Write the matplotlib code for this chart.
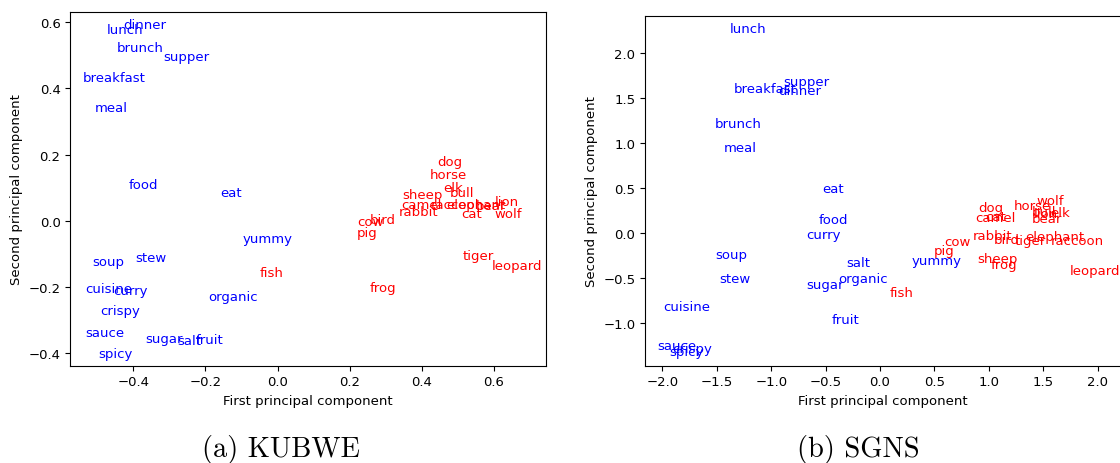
import matplotlib
matplotlib.use("Agg")
import matplotlib.pyplot as plt

# words that belong to the animal group (drawn in red), everything else is food
animals = [
    "dog", "horse", "elk", "bull", "sheep", "camel", "raccoon", "elephant",
    "bear", "lion", "cat", "wolf", "rabbit", "bird", "cow", "pig", "tiger",
    "leopard", "frog", "fish",
]

# KUBWE projection
kubwe_words = [
    "lunch", "dinner", "brunch", "supper", "breakfast", "meal", "food", "eat",
    "yummy", "soup", "stew", "cuisine", "curry", "organic", "crispy", "sauce",
    "sugar", "salt", "fruit", "spicy", "fish", "dog", "horse", "elk", "bull",
    "sheep", "camel", "raccoon", "elephant", "bear", "lion", "cat", "wolf",
    "rabbit", "bird", "cow", "pig", "tiger", "leopard", "frog",
]
kubwe_x = [
    -0.473, -0.427, -0.447, -0.318, -0.540, -0.506, -0.413, -0.158,
    -0.096, -0.515, -0.394, -0.533, -0.455, -0.193, -0.491, -0.532,
    -0.367, -0.278, -0.227, -0.496, -0.049, 0.444, 0.423, 0.460, 0.479,
    0.346, 0.344, 0.426, 0.468, 0.551, 0.604, 0.511, 0.602,
    0.337, 0.256, 0.221, 0.221, 0.513, 0.594, 0.256,
]
kubwe_y = [
    0.566, 0.582, 0.514, 0.486, 0.422, 0.332, 0.100, 0.076,
    -0.065, -0.134, -0.121, -0.214, -0.221, -0.239, -0.280, -0.347,
    -0.366, -0.372, -0.369, -0.411, -0.166, 0.169, 0.129, 0.091, 0.076,
    0.068, 0.040, 0.038, 0.040, 0.037, 0.047, 0.013, 0.013,
    0.017, -0.005, -0.013, -0.045, -0.116, -0.144, -0.211,
]

# SGNS projection
sgns_words = [
    "lunch", "supper", "breakfast", "dinner", "brunch", "meal", "eat", "food",
    "curry", "soup", "salt", "stew", "organic", "sugar", "fruit", "cuisine",
    "sauce", "crispy", "spicy", "yummy", "fish", "dog", "horse", "wolf",
    "camel", "cat", "bull", "lion", "elk", "bear", "rabbit", "bird",
    "elephant", "tiger", "raccoon", "cow", "pig", "sheep", "frog", "leopard",
]
sgns_x = [
    -1.379, -0.889, -1.342, -0.935, -1.523, -1.437, -0.533, -0.567,
    -0.674, -1.517, -0.306, -1.477, -0.383, -0.674, -0.441, -1.992,
    -2.046, -1.908, -1.936, 0.291, 0.085, 0.904, 1.225, 1.440,
    0.873, 0.965, 1.394, 1.410, 1.563, 1.394, 0.848, 1.042,
    1.333, 1.241, 1.570, 0.588, 0.490, 0.898, 1.017, 1.740,
]
sgns_y = [
    2.236, 1.650, 1.569, 1.550, 1.187, 0.913, 0.458, 0.117,
    -0.053, -0.272, -0.358, -0.542, -0.542, -0.609, -0.998, -0.846,
    -1.283, -1.313, -1.350, -0.339, -0.691, 0.253, 0.272, 0.328,
    0.142, 0.150, 0.209, 0.180, 0.198, 0.124, -0.061, -0.106,
    -0.069, -0.117, -0.117, -0.124, -0.228, -0.313, -0.387, -0.450,
]

FS = 9.5
plt.rcParams["font.size"] = FS


def plot_words(ax, words, xs, ys, xlim, ylim):
    for w, x, y in zip(words, xs, ys):
        color = "red" if w in animals else "blue"
        ax.text(x, y, w, color=color, fontsize=FS)
    ax.set_xlim(*xlim)
    ax.set_ylim(*ylim)
    ax.set_xlabel("First principal component")
    ax.set_ylabel("Second principal component")
    ax.tick_params(labelsize=FS)


W, H = 1120, 464
fig = plt.figure(figsize=(W / 100, H / 100), dpi=100)

ax1 = fig.add_axes([70.3 / W, 97.3 / H, 475.7 / W, 353.4 / H])
plot_words(ax1, kubwe_words, kubwe_x, kubwe_y, (-0.575, 0.745), (-0.4375, 0.630))

ax2 = fig.add_axes([645 / W, 97.3 / H, 476 / W, 350 / H])
plot_words(ax2, sgns_words, sgns_x, sgns_y, (-2.16, 2.215), (-1.469, 2.42))

fig.text(281 / W, 1 - 450 / H, "(a) KUBWE", family="cmr10", fontsize=20.5,
         ha="center", va="center")
fig.text(858 / W, 1 - 450 / H, "(b) SGNS", family="cmr10", fontsize=20.5,
         ha="center", va="center")

fig.savefig("out.png", dpi=100)
